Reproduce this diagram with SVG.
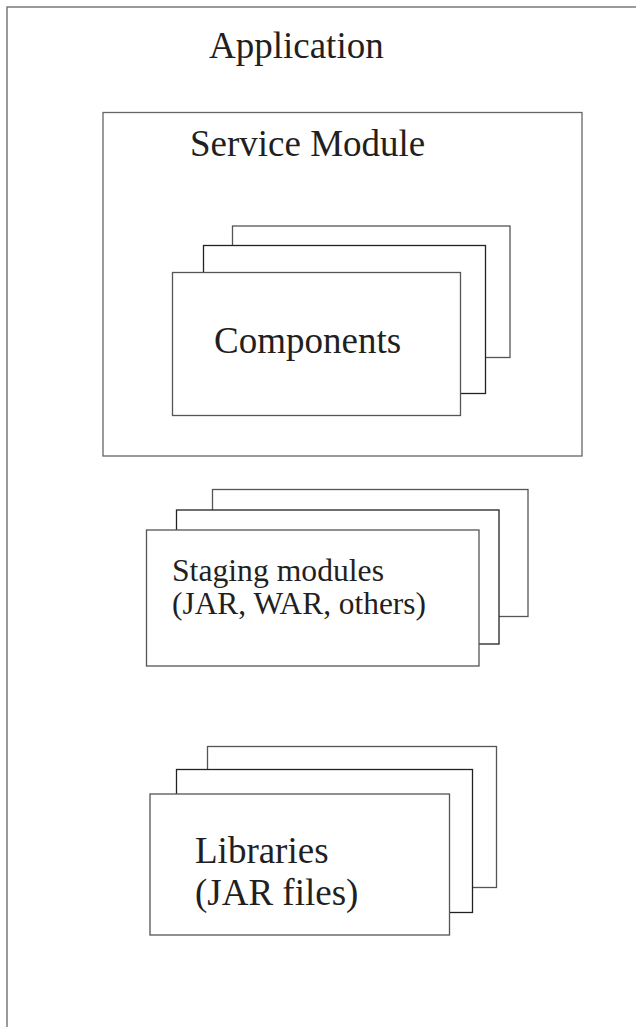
<svg xmlns="http://www.w3.org/2000/svg" width="636" height="1027" viewBox="0 0 636 1027">
<style>
.box{fill:#fff;stroke:#555;stroke-width:1.3}
.mid{fill:#fff;stroke:#222;stroke-width:1.3}
.frame{fill:none;stroke:#666;stroke-width:1.3}
text{font-family:"Liberation Serif","Times New Roman",serif;font-size:37px;fill:#231f20}
.small{font-size:31.5px}
</style>
<rect width="636" height="1027" fill="#fff"/>
<g id="application">
<rect class="frame" x="7" y="7" width="660" height="1060"/>
<text x="209" y="58">Application</text>
</g>
<g id="service-module">
<rect class="frame" x="103" y="112.5" width="479" height="343.5"/>
<text x="190" y="156">Service Module</text>
</g>
<g id="components">
<rect class="box" x="232.5" y="226" width="277.5" height="131.5"/>
<rect class="mid" x="203.5" y="245.5" width="282" height="148"/>
<rect class="box" x="172.5" y="272.5" width="288" height="143"/>
<text x="214" y="352.5">Components</text>
</g>
<g id="staging-modules">
<rect class="box" x="212.5" y="489.5" width="315.5" height="127"/>
<rect class="mid" x="176.5" y="510" width="322.5" height="134"/>
<rect class="box" x="146.5" y="530" width="332.5" height="136"/>
<text class="small" x="172" y="581" textLength="212" lengthAdjust="spacingAndGlyphs">Staging modules</text>
<text class="small" x="172" y="614" textLength="254" lengthAdjust="spacingAndGlyphs">(JAR, WAR, others)</text>
</g>
<g id="libraries">
<rect class="box" x="207.5" y="746.5" width="289" height="141"/>
<rect class="mid" x="176.5" y="769.5" width="296" height="143"/>
<rect class="box" x="150" y="794" width="299.5" height="141"/>
<text x="195" y="863">Libraries</text>
<text x="195" y="905">(JAR files)</text>
</g>
<g id="connectors"></g>
</svg>
